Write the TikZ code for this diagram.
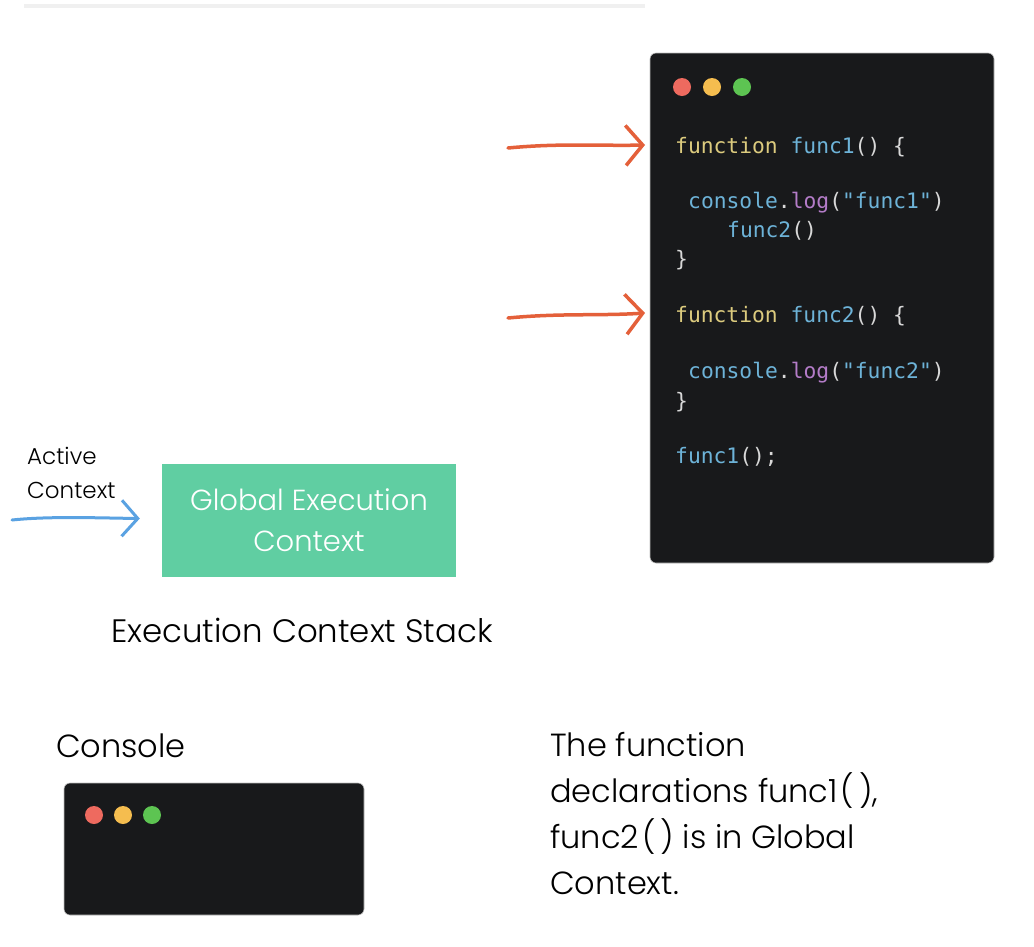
\documentclass[tikz,border=0pt]{standalone}
\usepackage{fontspec}
\setmainfont{Poppins Light}
\newfontfamily\codefont{DejaVu Sans Mono}
\usetikzlibrary{arrows.meta}
\definecolor{panel}{HTML}{18191B}
\definecolor{kwyellow}{HTML}{DCCB7E}
\definecolor{fnblue}{HTML}{6DB3D8}
\definecolor{logpurple}{HTML}{B47CC8}
\definecolor{punct}{HTML}{D8D8D8}
\definecolor{sketchorange}{HTML}{E4603A}
\definecolor{sketchblue}{HTML}{5AA2E2}
\definecolor{gecgreen}{HTML}{60CEA2}
\definecolor{dotred}{HTML}{EE6A5F}
\definecolor{dotyellow}{HTML}{F5BD4F}
\definecolor{dotgreen}{HTML}{5DC452}
\newcommand{\kw}[1]{\textcolor{kwyellow}{#1}}
\newcommand{\fn}[1]{\textcolor{fnblue}{#1}}
\newcommand{\lgc}[1]{\textcolor{logpurple}{#1}}
\tikzset{
  codeline/.style={anchor=west, inner sep=0pt, text=punct, font=\codefont\fontsize{21.3}{24}\selectfont},
  dot/.style={circle, minimum size=18pt, inner sep=0pt},
  sketch/.style={line width=3.5pt, line cap=round, line join=round, -{Straight Barb[length=17pt,width=40pt]}},
  window/.style={fill=panel, draw=black!25, line width=0.6pt, rounded corners=6pt}
}

\begin{document}
\begin{tikzpicture}[x=1pt, y=-1pt]
\useasboundingbox[fill=white] (0,0) rectangle (1034,946);
\draw[black!6, line width=4pt] (24,6) -- (645,6);
% code window
\draw[window] (650,53) rectangle (994,563);
\node[dot, fill=dotred] (r1) at (682,87) {};
\node[dot, fill=dotyellow] (y1) at (712,87) {};
\node[dot, fill=dotgreen] (g1) at (742,87) {};
\node[codeline] (f1) at (675,147) {\kw{function} \fn{func1}() \{};
\node[codeline] (l1) at (688,203) {\fn{console}.\lgc{log}(\fn{"func1"})};
\node[codeline] (c2) at (727,231) {\fn{func2}()};
\node[codeline] (e1) at (675,260) {\}};
\node[codeline] (f2) at (675,316) {\kw{function} \fn{func2}() \{};
\node[codeline] (l2) at (688,373) {\fn{console}.\lgc{log}(\fn{"func2"})};
\node[codeline] (e2) at (675,402) {\}};
\node[codeline] (call) at (675,457) {\fn{func1}();};
\coordinate (a1) at (508,148);\coordinate (a2) at (508,318);
\draw[sketch, sketchorange] (a1) .. controls (560,143) and (600,146) .. ([xshift=-30pt,yshift=2pt]f1.west);
\draw[sketch, sketchorange] (a2) .. controls (560,313) and (600,316) .. ([xshift=-30pt,yshift=3pt]f2.west);
% stack
\node[fill=gecgreen, minimum width=294pt, minimum height=113pt, align=center, text=white, font=\fontsize{29}{41}\selectfont] (gec) at (309,520.5) {Global Execution\\Context};
\node[anchor=west, align=left, font=\fontsize{23}{34}\selectfont, inner sep=0pt] (act) at (27,473) {Active\\Context};
\coordinate (b1) at (12,520);
\draw[sketch, sketchblue, line width=3pt, -{Straight Barb[length=16pt,width=36pt]}] (b1) .. controls (50,516) and (100,518) .. ([xshift=-22pt,yshift=2pt]gec.west);
\node[font=\fontsize{32.4}{38}\selectfont] (stack) at (302,630) {Execution Context Stack};
% console
\node[anchor=west, font=\fontsize{32}{38}\selectfont, inner sep=0pt] (con) at (56,746) {Console};
\draw[window] (64,783) rectangle (364,915);
\node[dot, fill=dotred] (r2) at (94,815) {};
\node[dot, fill=dotyellow] (y2) at (123,815) {};
\node[dot, fill=dotgreen] (g2) at (152,815) {};
\node[anchor=north west, align=left, inner sep=0pt, font=\fontsize{32}{46}\selectfont] (note) at (550,732) {The function\\declarations func1\kern3pt(\kern5pt),\\func2\kern3pt(\kern5pt) is in Global\\Context.};
\end{tikzpicture}
\end{document}
